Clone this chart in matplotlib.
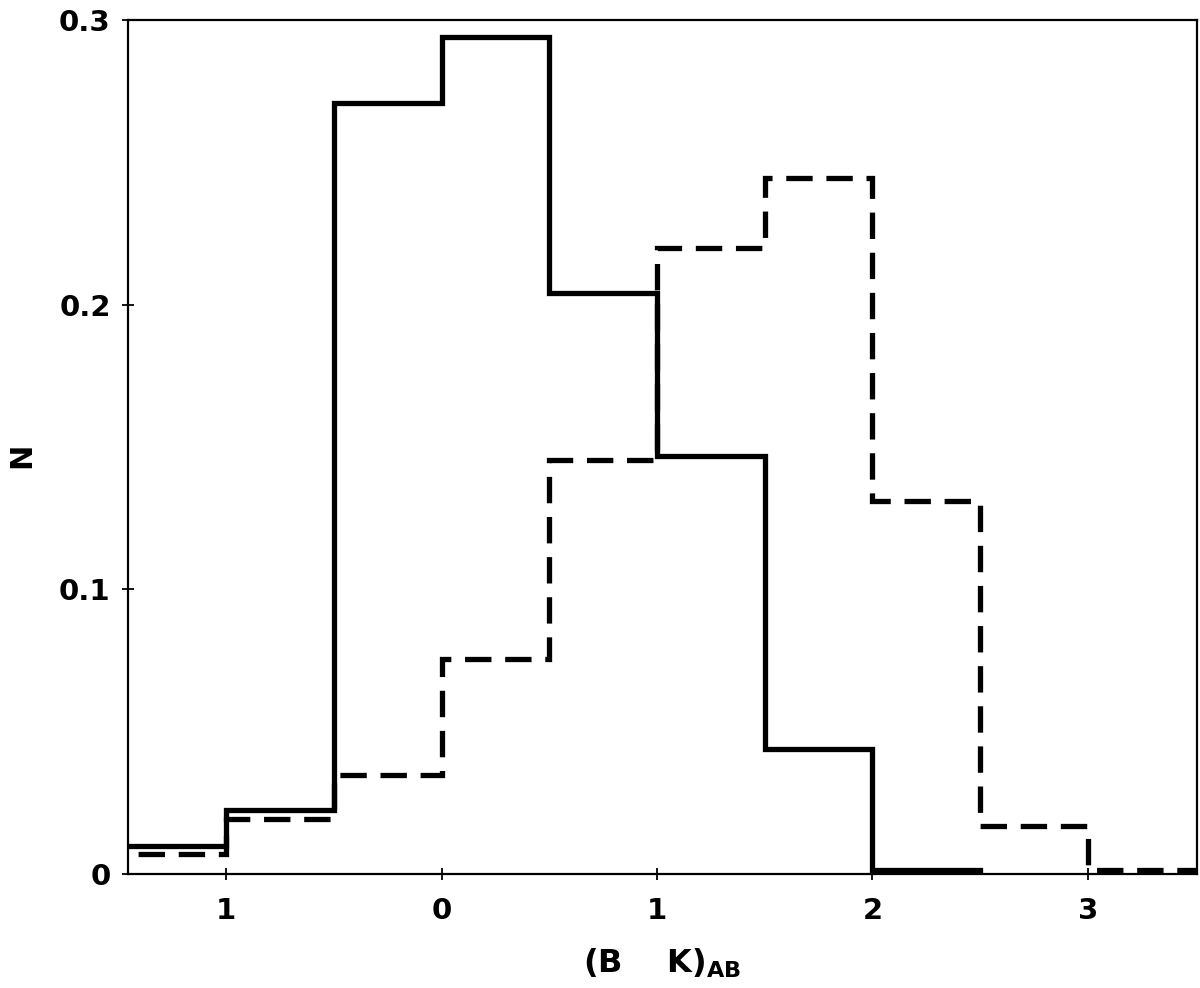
import matplotlib.pyplot as plt
import numpy as np

# Края бинов и значения гистограмм.
bin_edges = np.array([-1.5, -1.0, -0.5, 0.0, 0.5, 1.0, 1.5, 2.0, 2.5, 3.0, 3.5])
solid_vals = [0.0098, 0.0225, 0.271, 0.294, 0.204, 0.147, 0.044, 0.0014, 0.0, 0.0]
dashed_vals = [0.007, 0.0193, 0.0348, 0.0755, 0.1454, 0.2199, 0.2445, 0.131, 0.0169, 0.0014]

x_ticks = [-1, 0, 1, 2, 3]
x_tick_labels = ['1', '0', '1', '2', '3']
y_ticks = [0, 0.1, 0.2, 0.3]
y_tick_labels = ['0', '0.1', '0.2', '0.3']

plt.rcParams['font.family'] = ['DejaVu Sans']
plt.rcParams['font.weight'] = 'bold'

fig = plt.figure(figsize=(12, 9.88), dpi=100)
ax = fig.add_axes([0.1067, 0.1154, 0.8908, 0.8644])

# Сплошная гистограмма.
ax.stairs(solid_vals[:8], bin_edges[:9], color='black', lw=3.8, baseline=0)
# Штриховая гистограмма.
ax.stairs(dashed_vals, bin_edges, color='black', lw=3.8, baseline=0,
          linestyle=(0, (5, 2.6)))

ax.set_xlim(-1.455, 3.506)
ax.set_ylim(0, 0.3)

ax.set_xticks(x_ticks)
ax.set_xticklabels(x_tick_labels)
ax.set_yticks(y_ticks)
ax.set_yticklabels(y_tick_labels)
ax.tick_params(direction='inout', length=9, width=1.3, labelsize=21)
ax.tick_params(axis='x', pad=12)
ax.tick_params(axis='y', pad=8)
for lab in ax.get_xticklabels() + ax.get_yticklabels():
    lab.set_fontweight('bold')

for s in ax.spines.values():
    s.set_linewidth(1.6)

ax.set_xlabel(r'(B    K)$_{\mathbf{AB}}$', fontsize=23, fontweight='bold')
ax.set_ylabel('N', fontsize=22, fontweight='bold')
ax.xaxis.set_label_coords(0.5, -0.085)
ax.yaxis.set_label_coords(-0.086, 0.49)

fig.savefig('out.png')
